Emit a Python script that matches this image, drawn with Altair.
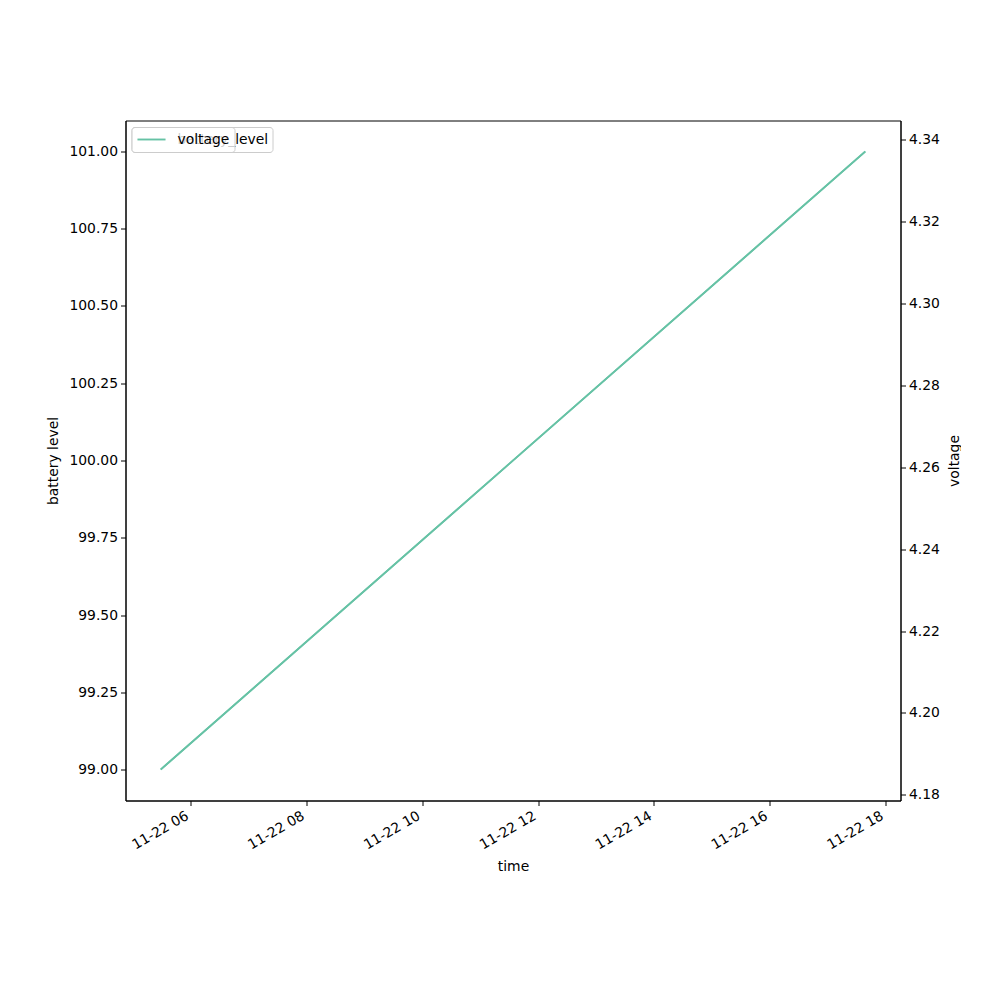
import altair as alt
import pandas as pd

# data
times = ["2023-11-22T05:29:00Z", "2023-11-22T17:39:00Z"]
battery_level = [99.0, 101.0]
voltage = [4.1862, 4.3371]
tick_hours = [6, 8, 10, 12, 14, 16, 18]
battery_ticks = [99.0, 99.25, 99.5, 99.75, 100.0, 100.25, 100.5, 100.75, 101.0]
voltage_ticks = [4.18, 4.20, 4.22, 4.24, 4.26, 4.28, 4.30, 4.32, 4.34]
legend_labels = ["battery_level", "voltage"]

COLOR = "#66c2a5"
FONT = "DejaVu Sans"
FS = 13.9

df = pd.DataFrame({"time": times, "battery_level": battery_level, "voltage": voltage})

x_vals = [alt.DateTime(year=2023, month=11, date=22, hours=h, utc=True) for h in tick_hours]
x_scale = alt.Scale(
    type="utc",
    domain=[alt.DateTime(year=2023, month=11, date=22, hours=4, minutes=52, seconds=30, utc=True),
            alt.DateTime(year=2023, month=11, date=22, hours=18, minutes=15, seconds=30, utc=True)],
)
x_enc = alt.X(
    "time:T",
    scale=x_scale,
    title="time",
    axis=alt.Axis(values=x_vals, format="%m-%d %H", labelAngle=-30, labelOffset=-7,
                  labelAlign="right", labelBaseline="top", titlePadding=8, grid=False),
)

base = alt.Chart(df)

line_batt = base.mark_line(color=COLOR, strokeWidth=1.8).encode(
    x=x_enc,
    y=alt.Y("battery_level:Q", scale=alt.Scale(domain=[98.9, 101.1], nice=False, zero=False),
            title="battery level",
            axis=alt.Axis(orient="left", values=battery_ticks, format=".2f", grid=False, titlePadding=8)),
)
line_volt = base.mark_line(color=COLOR, strokeWidth=1.8).encode(
    x=x_enc,
    y=alt.Y("voltage:Q", scale=alt.Scale(domain=[4.1786, 4.3447], nice=False, zero=False),
            title="voltage",
            axis=alt.Axis(orient="right", values=voltage_ticks, format=".2f", grid=False,
                          titleAngle=270, titleBaseline="top", titlePadding=8)),
)

one = alt.Chart(pd.DataFrame({"a": [0]}))

def legend(label, x2):
    box = one.mark_rect(fill="white", fillOpacity=0.8, stroke="#cccccc", strokeWidth=1,
                        cornerRadius=3).encode(
        x=alt.value(6.5), x2=alt.value(x2), y=alt.value(7), y2=alt.value(32))
    sample = one.mark_rule(color=COLOR, strokeWidth=1.8).encode(
        x=alt.value(12), x2=alt.value(40), y=alt.value(19))
    txt = one.mark_text(text=label, align="left", baseline="middle", font=FONT, fontSize=FS,
                        color="black").encode(x=alt.value(52), y=alt.value(19.5))
    return [box, sample, txt]

layers = [line_batt, line_volt] + legend(legend_labels[0], 147.5) + legend(legend_labels[1], 109.5)

chart = alt.layer(*layers).resolve_scale(y="independent").properties(
    width=775, height=680,
    autosize=alt.AutoSizeParams(type="none"),
    padding={"left": 117.5, "top": 112.5, "right": 60, "bottom": 150},
).configure_view(stroke="black", strokeWidth=1).configure_axis(
    labelFont=FONT, titleFont=FONT, labelFontSize=FS, titleFontSize=FS,
    titleFontWeight="normal", labelColor="black", titleColor="black",
    domainColor="black", tickColor="black", tickSize=5, labelPadding=3, domain=True,
)

chart.save("out.html", embed_options={"renderer": "svg", "actions": False})
